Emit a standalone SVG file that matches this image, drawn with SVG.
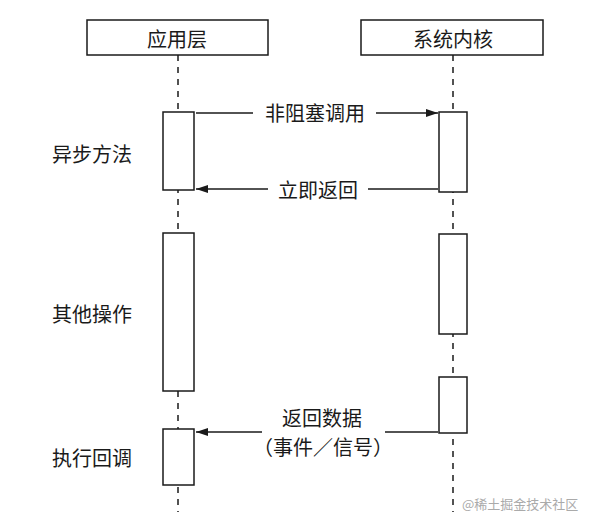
<svg xmlns="http://www.w3.org/2000/svg" width="591" height="526" viewBox="0 0 591 526">
<defs>
<style>
.box{fill:#fff;stroke:#1a1a1a;stroke-width:1.5}
.life{stroke:#1a1a1a;stroke-width:1.5;stroke-dasharray:6 6;fill:none}
.msg{stroke:#1a1a1a;stroke-width:1.5;fill:none}
.t{font-family:"Noto Sans CJK SC","Noto Sans",sans-serif;font-size:20px;fill:#1a1a1a;text-anchor:middle;dominant-baseline:central}
.wm{font-family:"Noto Sans CJK SC","Noto Sans",sans-serif;font-size:13px;fill:#aaa;dominant-baseline:central}
</style>
<marker id="ah" viewBox="0 0 12 8" refX="12" refY="4" markerWidth="12" markerHeight="8" markerUnits="userSpaceOnUse" orient="auto">
<path d="M0,0 L12,4 L0,8 Z" fill="#1a1a1a"/>
</marker>
</defs>
<rect width="591" height="526" fill="#fff"/>
<g id="lifelines">
<line class="life" x1="178" y1="55" x2="178" y2="512"/>
<line class="life" x1="453" y1="55" x2="453" y2="512"/>
</g>
<g id="app-layer">
<rect class="box" x="87" y="20" width="181" height="35"/>
<text class="t" x="177" y="38">应用层</text>
</g>
<g id="kernel">
<rect class="box" x="361" y="20" width="182" height="35"/>
<text class="t" x="453" y="38">系统内核</text>
</g>
<g id="act-left-1"><rect class="box" x="163" y="112" width="31" height="78"/></g>
<g id="act-left-2"><rect class="box" x="163" y="233" width="31" height="158"/></g>
<g id="act-left-3"><rect class="box" x="163" y="429" width="31" height="56"/></g>
<g id="act-right-1"><rect class="box" x="439" y="112" width="28" height="80"/></g>
<g id="act-right-2"><rect class="box" x="439" y="234" width="28" height="100"/></g>
<g id="act-right-3"><rect class="box" x="439" y="377" width="28" height="56"/></g>
<g id="connectors">
<line class="msg" x1="196" y1="113" x2="253" y2="113"/>
<line class="msg" x1="376" y1="113" x2="438" y2="113" marker-end="url(#ah)"/>
<line class="msg" x1="438" y1="189" x2="368" y2="189"/>
<line class="msg" x1="268" y1="189" x2="196" y2="189" marker-end="url(#ah)"/>
<line class="msg" x1="438" y1="432" x2="385" y2="432"/>
<line class="msg" x1="262" y1="432" x2="196" y2="432" marker-end="url(#ah)"/>
</g>
<g id="labels">
<text class="t" x="315" y="112">非阻塞调用</text>
<text class="t" x="318" y="189">立即返回</text>
<text class="t" x="322" y="417">返回数据</text>
<text class="t" x="323" y="446">（事件／信号）</text>
<text class="t" x="92" y="153">异步方法</text>
<text class="t" x="92" y="313">其他操作</text>
<text class="t" x="92" y="457">执行回调</text>
</g>
<text class="wm" x="462" y="503">@稀土掘金技术社区</text>
</svg>
